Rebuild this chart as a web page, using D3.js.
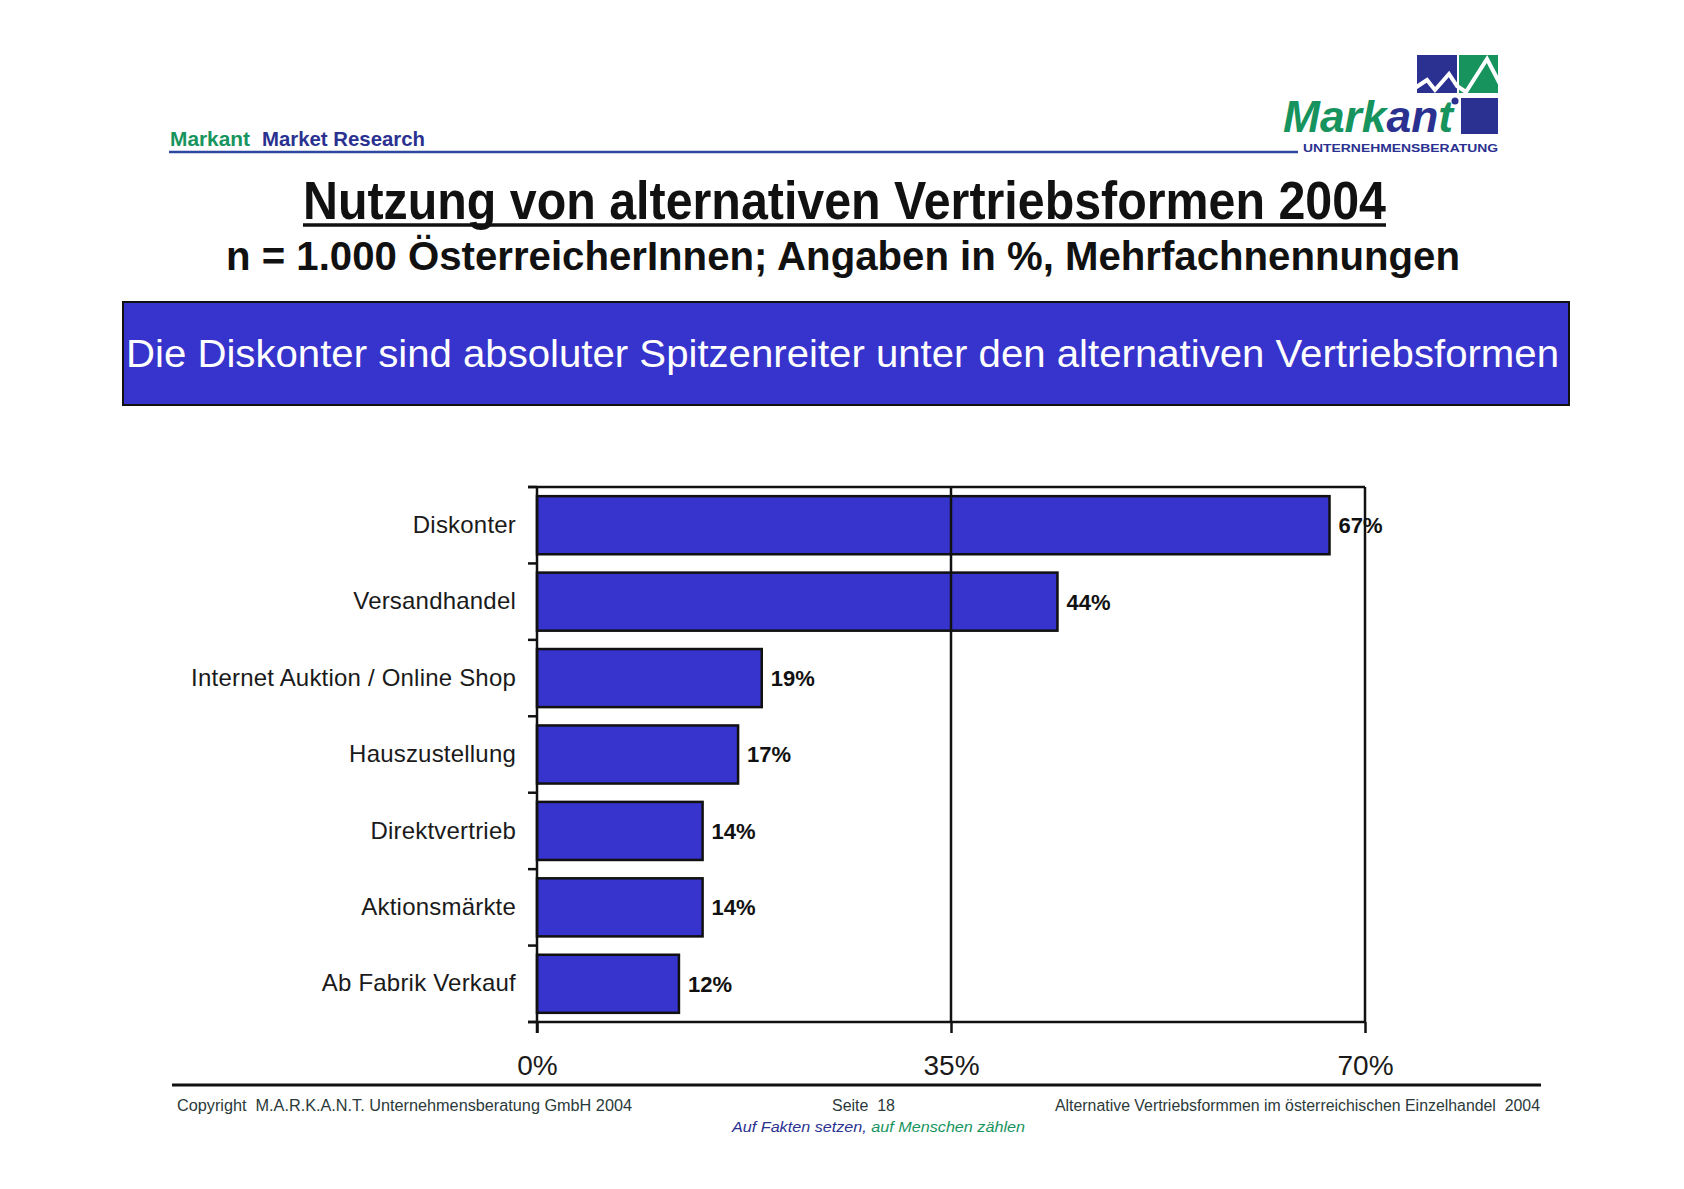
<!DOCTYPE html>
<html>
<head>
<meta charset="utf-8">
<script src="https://cdn.jsdelivr.net/npm/d3@7"></script>
<style>
  body { margin: 0; background: #fff; }
  svg { display: block; }
  text { font-family: "Liberation Sans", Arial, sans-serif; white-space: pre; }
</style>
</head>
<body>
<svg id="chart"></svg>
<script>
// data
var categories = ["Diskonter", "Versandhandel", "Internet Auktion / Online Shop",
  "Hauszustellung", "Direktvertrieb", "Aktionsmärkte", "Ab Fabrik Verkauf"];
var values = [67, 44, 19, 17, 14, 14, 12];
var xTicks = [0, 35, 70];

var title = "Nutzung von alternativen Vertriebsformen 2004";
var subtitle = "n = 1.000 ÖsterreicherInnen; Angaben in %, Mehrfachnennungen";
var banner = "Die Diskonter sind absoluter Spitzenreiter unter den alternativen Vertriebsformen";
var footLeft = "Copyright  M.A.R.K.A.N.T. Unternehmensberatung GmbH 2004";
var footMid = "Seite  18";
var footRight = "Alternative Vertriebsformmen im österreichischen Einzelhandel  2004";

var W = 1684, H = 1189;
var ink = "#111";
var navy = "#2a3190";
var green = "#17945e";

var svg = d3.select("#chart").attr("width", W).attr("height", H);

// ---- header ----
var head = svg.append("g")
  .style("font-family", "'DejaVu Sans', Verdana, sans-serif")
  .style("font-size", "21px").style("font-weight", "bold");
head.append("text")
  .attr("x", 170).attr("y", 146).attr("fill", green)
  .attr("textLength", 80).attr("lengthAdjust", "spacingAndGlyphs")
  .text("Markant");
head.append("text")
  .attr("x", 262).attr("y", 146).attr("fill", navy)
  .attr("textLength", 163).attr("lengthAdjust", "spacingAndGlyphs")
  .text("Market Research");
svg.append("line")
  .attr("x1", 169).attr("x2", 1298).attr("y1", 152).attr("y2", 152)
  .attr("stroke", "#2d48a0").attr("stroke-width", 2.5);

// logo
var logo = svg.append("g");
logo.append("rect").attr("x", 1417).attr("y", 55).attr("width", 40).attr("height", 38).attr("fill", navy);
logo.append("rect").attr("x", 1459).attr("y", 55).attr("width", 39).attr("height", 38).attr("fill", green);
logo.append("rect").attr("x", 1461).attr("y", 98).attr("width", 37).attr("height", 36).attr("fill", navy);
logo.append("path")
  .attr("d", "M1415,88 L1427,80 L1435,90 L1449,74 L1457,86 L1466,92 L1487,59 L1500,84")
  .attr("fill", "none").attr("stroke", "#fff").attr("stroke-width", 4);
logo.append("circle").attr("cx", 1455).attr("cy", 101).attr("r", 3.5).attr("fill", navy);
logo.append("text")
  .attr("x", 1283).attr("y", 132)
  .attr("textLength", 170).attr("lengthAdjust", "spacingAndGlyphs")
  .style("font-size", "45px").style("font-style", "italic").style("font-weight", "bold")
  .call(function (t) {
    t.append("tspan").attr("fill", green).text("Mark");
    t.append("tspan").attr("fill", navy).text("an");
    t.append("tspan").attr("fill", green).text("t");
  });
logo.append("text")
  .attr("x", 1303).attr("y", 152)
  .attr("textLength", 195).attr("lengthAdjust", "spacingAndGlyphs")
  .attr("fill", navy)
  .style("font-size", "10px").style("font-weight", "bold")
  .text("UNTERNEHMENSBERATUNG");

// ---- titles ----
svg.append("text")
  .attr("x", 303).attr("y", 219)
  .attr("textLength", 1083).attr("lengthAdjust", "spacingAndGlyphs")
  .attr("fill", ink)
  .style("font-family", "'Liberation Sans Narrow', 'Arial Narrow', 'Liberation Sans', sans-serif")
  .style("font-size", "54px").style("font-weight", "bold")
  .text(title);
svg.append("line")
  .attr("x1", 303).attr("x2", 1386).attr("y1", 225).attr("y2", 225)
  .attr("stroke", ink).attr("stroke-width", 3.5);

svg.append("text")
  .attr("x", 226).attr("y", 270)
  .attr("textLength", 1234).attr("lengthAdjust", "spacingAndGlyphs")
  .attr("fill", ink)
  .style("font-family", "'Liberation Sans Narrow', 'Arial Narrow', 'Liberation Sans', sans-serif")
  .style("font-size", "40px").style("font-weight", "bold")
  .text(subtitle);

// banner
svg.append("rect")
  .attr("x", 123).attr("y", 302).attr("width", 1446).attr("height", 103)
  .attr("fill", "#3634cc").attr("stroke", ink).attr("stroke-width", 2);
svg.append("text")
  .attr("x", 126).attr("y", 367)
  .attr("textLength", 1433).attr("lengthAdjust", "spacingAndGlyphs")
  .attr("fill", "#fff")
  .style("font-family", "'Liberation Sans Narrow', 'Arial Narrow', 'Liberation Sans', sans-serif")
  .style("font-size", "38px")
  .text(banner);

// ---- bar chart ----
var x = d3.scaleLinear().domain([0, 70]).range([537, 1365]);
var y = d3.scaleBand().domain(categories).range([487, 1022])
  .paddingInner(0.24).paddingOuter(0.12);
var step = y.step();
var top0 = y.range()[0], bot0 = y.range()[1];

var chart = svg.append("g");

// bars
chart.selectAll("rect.bar").data(values).enter().append("rect")
  .attr("class", "bar")
  .attr("x", x(0))
  .attr("y", function (d, i) { return y(categories[i]); })
  .attr("width", function (d) { return x(d) - x(0); })
  .attr("height", y.bandwidth())
  .attr("fill", "#3634cc")
  .attr("stroke", ink).attr("stroke-width", 2.5);

// frame lines: top, gridline at 35, right border at 70
chart.append("line")
  .attr("x1", x(0) - 9).attr("x2", x(70)).attr("y1", top0).attr("y2", top0)
  .attr("stroke", ink).attr("stroke-width", 2.5);
chart.selectAll("line.grid").data(xTicks.slice(1)).enter().append("line")
  .attr("class", "grid")
  .attr("x1", function (d) { return x(d); }).attr("x2", function (d) { return x(d); })
  .attr("y1", top0).attr("y2", bot0)
  .attr("stroke", ink).attr("stroke-width", 2.5);

// y axis: category labels at band centres, ticks at band boundaries
var yAxis = chart.append("g")
  .attr("transform", "translate(" + x(0) + ",0)")
  .call(d3.axisLeft(y).tickSize(0).tickPadding(21));
yAxis.select(".domain").remove();
yAxis.selectAll("text")
  .attr("fill", "#1a1a1a")
  .style("font-family", "'Liberation Sans', Arial, sans-serif")
  .style("font-size", "24px")
  .style("letter-spacing", "0.2px");

chart.selectAll("line.ytick").data(d3.range(categories.length + 1)).enter().append("line")
  .attr("class", "ytick")
  .attr("x1", x(0) - 9).attr("x2", x(0))
  .attr("y1", function (i) { return top0 + i * step; })
  .attr("y2", function (i) { return top0 + i * step; })
  .attr("stroke", ink).attr("stroke-width", 2.5);
chart.append("line")
  .attr("x1", x(0)).attr("x2", x(0)).attr("y1", top0).attr("y2", bot0 + 11)
  .attr("stroke", ink).attr("stroke-width", 2.5);

// x axis
var xAxis = chart.append("g")
  .attr("transform", "translate(0," + bot0 + ")")
  .call(d3.axisBottom(x).tickValues(xTicks).tickSize(11).tickPadding(22)
    .tickFormat(function (d) { return d + "%"; }));
xAxis.select(".domain")
  .attr("d", "M" + (x(0) - 9) + ",0H" + x(70))
  .attr("stroke", ink).attr("stroke-width", 2.5);
xAxis.selectAll("line").attr("stroke", ink).attr("stroke-width", 2.5);
xAxis.selectAll("text")
  .attr("fill", "#1a1a1a")
  .style("font-family", "'Liberation Sans', Arial, sans-serif")
  .style("font-size", "28px");

// value labels
chart.selectAll("text.val").data(values).enter().append("text")
  .attr("class", "val")
  .attr("x", function (d) { return x(d) + 9; })
  .attr("y", function (d, i) { return y(categories[i]) + y.bandwidth() / 2; })
  .attr("dy", "0.36em")
  .attr("fill", ink)
  .style("font-size", "22px").style("font-weight", "bold")
  .text(function (d) { return d + "%"; });

// ---- footer ----
svg.append("line")
  .attr("x1", 172).attr("x2", 1541).attr("y1", 1085).attr("y2", 1085)
  .attr("stroke", ink).attr("stroke-width", 3);

var foot = svg.append("g")
  .style("font-family", "'Liberation Sans Narrow', 'Arial Narrow', 'Liberation Sans', sans-serif")
  .style("font-size", "16px").attr("fill", "#2b3a3a");
foot.append("text").attr("x", 177).attr("y", 1111)
  .attr("textLength", 455).attr("lengthAdjust", "spacingAndGlyphs").text(footLeft);
foot.append("text").attr("x", 832).attr("y", 1111)
  .attr("textLength", 63).attr("lengthAdjust", "spacingAndGlyphs").text(footMid);
foot.append("text").attr("x", 1055).attr("y", 1111)
  .attr("textLength", 485).attr("lengthAdjust", "spacingAndGlyphs").text(footRight);

svg.append("text")
  .attr("x", 732).attr("y", 1132)
  .attr("textLength", 293).attr("lengthAdjust", "spacingAndGlyphs")
  .style("font-size", "15px").style("font-style", "italic")
  .call(function (t) {
    t.append("tspan").attr("fill", navy).text("Auf Fakten setzen, ");
    t.append("tspan").attr("fill", green).text("auf Menschen zählen");
  });
</script>
</body>
</html>
